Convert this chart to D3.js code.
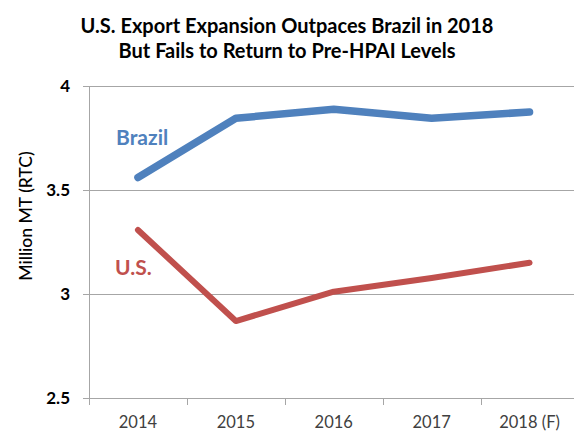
<!DOCTYPE html>
<html><head><meta charset="utf-8">
<script src="https://cdn.jsdelivr.net/npm/d3@7"></script>
<style>body{margin:0;background:#fff;} svg{display:block;}</style>
</head><body>
<script>
const categories = ["2014", "2015", "2016", "2017", "2018 (F)"];
const brazil = [3.56, 3.845, 3.888, 3.845, 3.875];
const us = [3.308, 2.87, 3.011, 3.077, 3.15];
const yTicks = [2.5, 3, 3.5, 4];
const titleLines = ["U.S. Export Expansion Outpaces Brazil in 2018", "But Fails to Return to Pre-HPAI Levels"];
const seriesLabels = ["Brazil", "U.S."];

const W = 574, H = 432;
const svg = d3.select("body").append("svg").attr("width", W).attr("height", H);
const font = "Lato, 'Open Sans', sans-serif";

const x = d3.scaleBand().domain(categories).range([89, 578.5]);
const y = d3.scaleLinear().domain([2.5, 4]).range([398, 86]);

// gridlines
svg.append("g").selectAll("line").data(yTicks).join("line")
  .attr("x1", 83).attr("x2", 578.5)
  .attr("y1", d => Math.round(y(d)) + 0.5).attr("y2", d => Math.round(y(d)) + 0.5)
  .attr("stroke", "#a6a6a6").attr("stroke-width", 1);

// y axis line
svg.append("line").attr("x1", 89.5).attr("x2", 89.5).attr("y1", 86).attr("y2", 405)
  .attr("stroke", "#a6a6a6");

// x category boundary ticks
svg.append("g").selectAll("line").data(categories.slice(1)).join("line")
  .attr("x1", d => Math.round(x(d)) + 0.5).attr("x2", d => Math.round(x(d)) + 0.5)
  .attr("y1", 398).attr("y2", 405).attr("stroke", "#a6a6a6");

// y tick labels
svg.append("g").selectAll("text").data(yTicks).join("text")
  .attr("x", 70).attr("y", d => y(d) + 6)
  .attr("text-anchor", "end").attr("font-family", font).attr("font-weight", "bold")
  .attr("font-size", 17).attr("fill", "#000")
  .text(d => d);

// x tick labels
svg.append("g").selectAll("text").data(categories).join("text")
  .attr("x", d => x(d) + x.bandwidth() / 2).attr("y", 428)
  .attr("text-anchor", "middle").attr("font-family", font)
  .attr("font-size", 16.5).attr("fill", "#404040")
  .text(d => d);

// y axis title
svg.append("text").attr("transform", "translate(32,216) rotate(-90)")
  .attr("text-anchor", "middle").attr("font-family", font).attr("font-size", 17.5)
  .attr("font-weight", 500).attr("fill", "#000").text("Million MT (RTC)");

// title
svg.append("g").selectAll("text").data(titleLines).join("text")
  .attr("x", 287).attr("y", (d, i) => 33 + i * 25)
  .attr("text-anchor", "middle").attr("font-family", font).attr("font-weight", "bold")
  .attr("font-size", 20).attr("fill", "#000").text(d => d);

const line = d3.line().x((d, i) => x(categories[i]) + x.bandwidth() / 2).y(d => y(d));

svg.append("path").datum(brazil).attr("d", line).attr("fill", "none")
  .attr("stroke", "#4F81BD").attr("stroke-width", 7.5).attr("stroke-linecap", "round").attr("stroke-linejoin", "round");
svg.append("path").datum(us).attr("d", line).attr("fill", "none")
  .attr("stroke", "#C0504D").attr("stroke-width", 6).attr("stroke-linecap", "round").attr("stroke-linejoin", "round");

// series labels
svg.append("text").attr("x", 116).attr("y", 145).attr("font-family", font).attr("font-weight", "bold")
  .attr("font-size", 21).attr("fill", "#4F81BD").text(seriesLabels[0]);
svg.append("text").attr("x", 115).attr("y", 275).attr("font-family", font).attr("font-weight", "bold")
  .attr("font-size", 21).attr("fill", "#C0504D").text(seriesLabels[1]);
</script>
</body></html>
